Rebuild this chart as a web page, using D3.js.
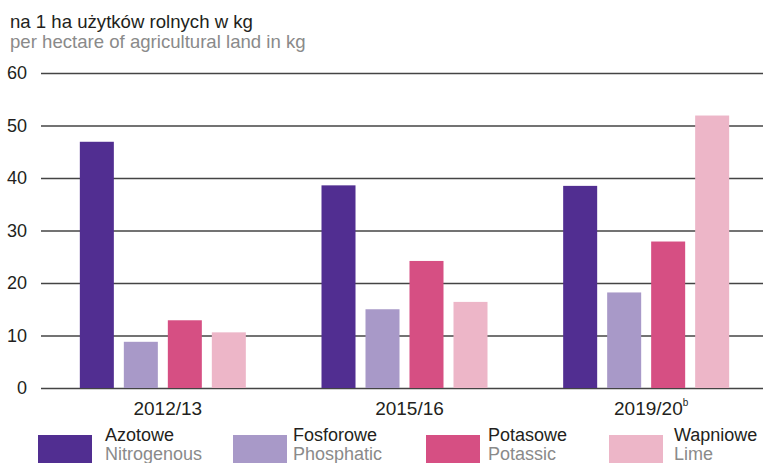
<!DOCTYPE html>
<html lang="pl">
<head>
<meta charset="UTF-8">
<title>Nawozy</title>
<script src="https://cdn.jsdelivr.net/npm/d3@7"></script>
<style>
  body { margin: 0; background: #fff; }
  text { font-family: "Liberation Sans", Arial, sans-serif; }
</style>
</head>
<body>
<script>
// dane
var years = ["2012/13", "2015/16", "2019/20"];
var seriesPL = ["Azotowe", "Fosforowe", "Potasowe", "Wapniowe"];
var seriesEN = ["Nitrogenous", "Phosphatic", "Potassic", "Lime"];
var azotowe = [46.9, 38.6, 38.5];
var fosforowe = [8.8, 15.0, 18.2];
var potasowe = [12.9, 24.2, 27.9];
var wapniowe = [10.6, 16.4, 51.9];
var yTicks = [0, 10, 20, 30, 40, 50, 60];
var colors = ["#512e91", "#a899c8", "#d64f83", "#edb6c8"];

var values = [azotowe, fosforowe, potasowe, wapniowe];
var width = 763, height = 463;
var svg = d3.select("body").append("svg").attr("width", width).attr("height", height);

var x0 = d3.scaleBand().domain(years).range([42, 767]);
var x1 = d3.scaleBand().domain(d3.range(seriesPL.length)).range([0, 166]).paddingInner(0.227);
var y = d3.scaleLinear().domain([0, 60]).range([388, 73]);

// tytul
svg.append("text").attr("x", 10).attr("y", 28).attr("font-size", "18.6px").attr("fill", "#231f20")
  .text("na 1 ha użytków rolnych w kg");
svg.append("text").attr("x", 10).attr("y", 48).attr("font-size", "18.6px").attr("fill", "#8a8a8a")
  .text("per hectare of agricultural land in kg");

// siatka
var yAxis = d3.axisLeft(y).tickValues(yTicks).tickSize(-(763 - 41)).tickPadding(14);
var gy = svg.append("g").attr("transform", "translate(41,0)").call(yAxis);
gy.select(".domain").remove();
gy.selectAll(".tick line").attr("stroke", "#444").attr("stroke-width", 1.4);
gy.selectAll(".tick text").attr("font-size", "18px").attr("fill", "#231f20")
  .attr("font-family", "Liberation Sans, Arial, sans-serif").attr("x", -14);

// slupki
var groups = svg.selectAll("g.grp").data(years).enter().append("g").attr("class", "grp")
  .attr("transform", function(d) { return "translate(" + (x0(d) + (x0.bandwidth() - 166) / 2) + ",0)"; });
groups.selectAll("rect").data(function(d, i) { return values.map(function(v, s) { return {s: s, v: v[i]}; }); })
  .enter().append("rect")
  .attr("x", function(d) { return x1(d.s); })
  .attr("y", function(d) { return y(d.v); })
  .attr("width", x1.bandwidth())
  .attr("height", function(d) { return y(0) - y(d.v); })
  .attr("fill", function(d) { return colors[d.s]; });

// os x
var xAxis = d3.axisBottom(x0).tickSize(0).tickPadding(0);
var gx = svg.append("g").attr("transform", "translate(5,415)").call(xAxis);
gx.select(".domain").remove();
gx.selectAll(".tick text").attr("font-size", "19px").attr("fill", "#231f20")
  .attr("font-family", "Liberation Sans, Arial, sans-serif").attr("dy", 0);
gx.selectAll(".tick text").filter(function(d) { return d === "2019/20"; })
  .append("tspan").attr("font-size", "10px").attr("dy", -9).text("b");

// legenda
var legX = [38, 233, 426, 609];
var legTextX = [105, 293, 488, 674];
var leg = svg.selectAll("g.leg").data(seriesPL).enter().append("g").attr("class", "leg");
leg.append("rect").attr("x", function(d, i) { return legX[i]; }).attr("y", 435)
  .attr("width", 54).attr("height", 28).attr("fill", function(d, i) { return colors[i]; });
leg.append("text").attr("x", function(d, i) { return legTextX[i]; }).attr("y", 441)
  .attr("font-size", "18px").attr("fill", "#231f20").text(function(d) { return d; });
leg.append("text").attr("x", function(d, i) { return legTextX[i]; }).attr("y", 460)
  .attr("font-size", "18px").attr("fill", "#8a8a8a").text(function(d, i) { return seriesEN[i]; });
</script>
</body>
</html>
